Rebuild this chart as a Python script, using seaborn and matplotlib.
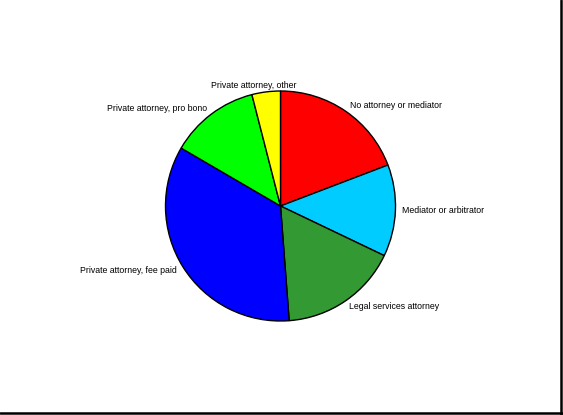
import matplotlib
matplotlib.use("Agg")
import matplotlib.pyplot as plt
from matplotlib.lines import Line2D
import seaborn as sns

labels = ["No attorney or mediator", "Mediator or arbitrator", "Legal services attorney",
          "Private attorney, fee paid", "Private attorney, pro bono", "Private attorney, other"]
shares = [19.2, 12.9, 16.7, 34.6, 12.6, 4.0]
colors = ["#FF0000", "#00CCFF", "#339933", "#0000FF", "#00FF00", "#FFFF00"]

sns.set_style("white")
plt.rcParams['font.family'] = ['Liberation Sans', 'DejaVu Sans']

fig = plt.figure(figsize=(5.63, 4.15), dpi=100)
# pie box: centre (280.5, 206) px, radius 115 px
cx, cy, r = 280.5 / 563, 1 - 206 / 415, 115
ax = fig.add_axes([cx - r / 563, cy - r / 415, 2 * r / 563, 2 * r / 415])

wedges, texts = ax.pie(shares, labels=labels, colors=colors, startangle=90,
                       counterclock=False, labeldistance=1.06,
                       wedgeprops=dict(edgecolor="black", linewidth=1),
                       textprops=dict(fontsize=6.3, color="black"))
# top label sits centred a little left of its wedge
tx, ty = texts[-1].get_position()
texts[-1].set_position((tx - 0.1, ty))
texts[-1].set_ha("center")
ax.set_xlim(-1, 1)
ax.set_ylim(-1, 1)
ax.set_aspect("equal")
ax.axis("off")

# shadow-like frame on right and bottom
fig.add_artist(Line2D([561 / 563, 561 / 563], [0.0, 1.0], color="black", linewidth=1.8, transform=fig.transFigure))
fig.add_artist(Line2D([0.0, 1.0], [2 / 415, 2 / 415], color="black", linewidth=1.8, transform=fig.transFigure))

fig.savefig("out.png", dpi=100)
